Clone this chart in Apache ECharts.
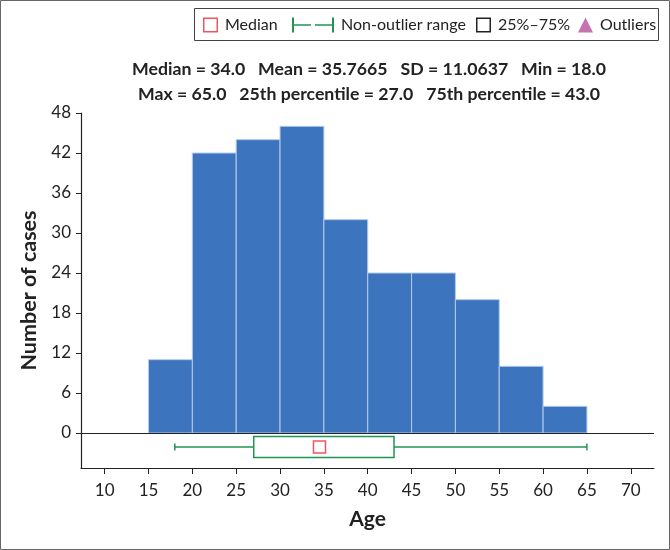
<!DOCTYPE html>
<html>
<head>
<meta charset="utf-8">
<script src="https://cdn.jsdelivr.net/npm/echarts@6/dist/echarts.min.js"></script>
<style>
  html, body { margin: 0; padding: 0; background: #fff; }
  #chart { width: 670px; height: 550px; }
</style>
</head>
<body>
<div id="chart"></div>
<script>
// histogram bins (edges) and counts
const binEdges = [15, 20, 25, 30, 35, 40, 45, 50, 55, 60, 65];
const counts = [11, 42, 44, 46, 32, 24, 24, 20, 10, 4];

// box plot values (median square is drawn where the picture has it)
const whiskerLow = [18, 27];
const whiskerHigh = [43, 65];
const quartiles = [27, 43];
const medianMark = [[34.5, -2.1]];

// tick labels
const xTicks = [10, 15, 20, 25, 30, 35, 40, 45, 50, 55, 60, 65, 70];
const yTicks = [0, 6, 12, 18, 24, 30, 36, 42, 48];

const statsLine1 = "Median = 34.0   Mean = 35.7665   SD = 11.0637   Min = 18.0";
const statsLine2 = "Max = 65.0   25th percentile = 27.0   75th percentile = 43.0";

const FONT = "Lato";
const TXT = "#222";
const BAR = "#3c75be";
const GREEN = "#219552";
const RED = "#ee2a2f";
const PURPLE = "#b9509f";
const boxLevel = -2.1;

const histData = counts.map((c, i) => [binEdges[i], binEdges[i + 1], c]);

const chart = echarts.init(document.getElementById("chart"));

function legendBox(name, left, icon, w, h, color) {
  return {
    left: left,
    top: 17,
    padding: 0,
    itemWidth: w,
    itemHeight: h,
    itemGap: 0,
    selectedMode: false,
    data: [{ name: name, icon: icon }],
    itemStyle: { color: color, borderWidth: 0 },
    textStyle: { fontFamily: FONT, fontSize: 16, color: TXT, padding: [0, 0, 0, 2] },
  };
}

const hollowSq = "path://M0,0H15V15H0Z M1.5,1.5V13.5H13.5V1.5Z";
const whiskerIcon = "path://M0,0H2V15H0Z M2,6.7H19V8.3H2Z M23,6.7H40V8.3H23Z M40,0H42V15H40Z";

chart.setOption({
  animation: false,
  title: {
    text: statsLine1 + "\n" + statsLine2,
    left: 364,
    top: 52,
    textAlign: "center",
    textStyle: { fontFamily: FONT, fontSize: 17.7, fontWeight: "bold", color: TXT, lineHeight: 25 },
  },
  legend: [
    legendBox("Median", 203, hollowSq, 15, 15, RED),
    legendBox("Non-outlier range", 292, whiskerIcon, 42, 15, GREEN),
    legendBox("25%–75%", 476, hollowSq, 15, 15, "#222"),
    legendBox("Outliers", 578, "triangle", 15, 15, PURPLE),
  ],
  graphic: [
    { type: "rect", shape: { x: 0.5, y: 0.5, width: 669, height: 549 }, style: { fill: "none", stroke: "#666", lineWidth: 1 }, silent: true },
    { type: "rect", shape: { x: 194.5, y: 8.5, width: 464, height: 32 }, style: { fill: "none", stroke: "#444", lineWidth: 1 }, silent: true },
  ],
  grid: { left: 81, right: 16, top: 113, bottom: 82 },
  xAxis: {
    type: "value",
    min: 7.3,
    max: 72.65,
    name: "Age",
    nameLocation: "middle",
    nameGap: 41,
    nameTextStyle: { fontFamily: FONT, fontSize: 21, fontWeight: "bold", color: TXT },
    axisLine: { onZero: false, lineStyle: { color: "#222", width: 1.2 } },
    axisTick: { customValues: xTicks, length: 6, lineStyle: { color: "#222" } },
    axisLabel: { customValues: xTicks, fontFamily: FONT, fontSize: 17, color: TXT, margin: 14 },
    splitLine: { show: false },
  },
  yAxis: {
    type: "value",
    min: -5.25,
    max: 48,
    name: "Number of cases",
    nameLocation: "middle",
    nameGap: 37,
    nameTextStyle: { fontFamily: FONT, fontSize: 21.5, fontWeight: "bold", color: TXT },
    axisLine: { show: true, onZero: false, lineStyle: { color: "#222", width: 1.2 } },
    axisTick: { show: true, customValues: yTicks, length: 5, lineStyle: { color: "#222" } },
    axisLabel: { customValues: yTicks, fontFamily: FONT, fontSize: 17, color: TXT, margin: 10 },
    splitLine: { show: false },
  },
  series: [
    {
      name: "Histogram",
      type: "custom",
      data: histData,
      encode: { x: [0, 1], y: 2 },
      renderItem: function (params, api) {
        const p0 = api.coord([api.value(0), api.value(2)]);
        const p1 = api.coord([api.value(1), 0]);
        return {
          type: "rect",
          shape: { x: p0[0], y: p0[1], width: p1[0] - p0[0], height: p1[1] - p0[1] },
          style: { fill: BAR, stroke: "#b3cbea", lineWidth: 1 },
        };
      },
      z: 2,
    },
    {
      name: "Non-outlier range",
      type: "custom",
      data: [whiskerLow, whiskerHigh],
      encode: { x: [0, 1] },
      renderItem: function (params, api) {
        const a = api.coord([api.value(0), boxLevel]);
        const b = api.coord([api.value(1), boxLevel]);
        const cap = params.dataIndex === 0 ? a : b;
        return {
          type: "group",
          children: [
            { type: "line", shape: { x1: a[0], y1: a[1], x2: b[0], y2: b[1] }, style: { stroke: GREEN, lineWidth: 1.5 } },
            { type: "line", shape: { x1: cap[0], y1: cap[1] - 3.5, x2: cap[0], y2: cap[1] + 3.5 }, style: { stroke: GREEN, lineWidth: 1.5 } },
          ],
        };
      },
      z: 3,
    },
    {
      name: "25%–75%",
      type: "custom",
      data: [quartiles],
      encode: { x: [0, 1] },
      renderItem: function (params, api) {
        const a = api.coord([api.value(0), boxLevel]);
        const b = api.coord([api.value(1), boxLevel]);
        return {
          type: "rect",
          shape: { x: a[0], y: a[1] - 10.5, width: b[0] - a[0], height: 21 },
          style: { fill: "#fff", stroke: GREEN, lineWidth: 1.5 },
        };
      },
      z: 4,
    },
    {
      name: "Median",
      type: "scatter",
      data: medianMark,
      symbol: "rect",
      symbolSize: 12,
      itemStyle: { color: "#fff", borderColor: RED, borderWidth: 1.5 },
      z: 5,
      markLine: {
        silent: true,
        symbol: "none",
        label: { show: false },
        lineStyle: { color: "#222", width: 1.2, type: "solid" },
        data: [{ yAxis: 0 }],
      },
    },
    {
      name: "Outliers",
      type: "scatter",
      data: [],
      symbol: "triangle",
      itemStyle: { color: PURPLE },
    },
  ],
});
</script>
</body>
</html>
